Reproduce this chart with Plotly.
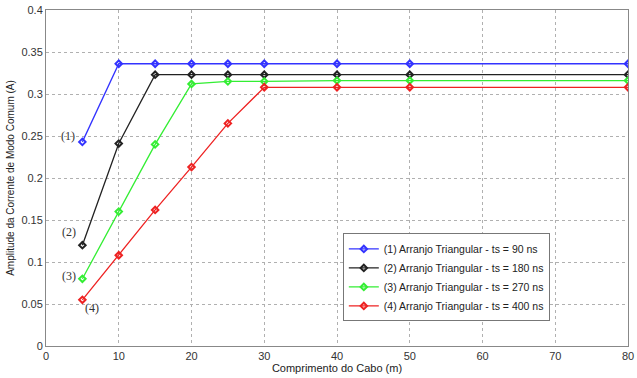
import plotly.graph_objects as go

x = [5, 10, 15, 20, 25, 30, 40, 50, 80]
s1 = [0.243, 0.336, 0.336, 0.336, 0.336, 0.336, 0.336, 0.336, 0.336]
s2 = [0.120, 0.241, 0.323, 0.323, 0.323, 0.323, 0.323, 0.323, 0.323]
s3 = [0.080, 0.160, 0.240, 0.312, 0.315, 0.315, 0.316, 0.316, 0.316]
s4 = [0.055, 0.108, 0.162, 0.213, 0.265, 0.308, 0.308, 0.308, 0.308]
names = ["(1) Arranjo Triangular - ts = 90 ns",
         "(2) Arranjo Triangular - ts = 180 ns",
         "(3) Arranjo Triangular - ts = 270 ns",
         "(4) Arranjo Triangular - ts = 400 ns"]
colors = ["#3333ff", "#222222", "#33ee33", "#ee2222"]
labels = ["(1)", "(2)", "(3)", "(4)"]
label_pos = [(3.0, 0.250), (3.2, 0.136), (3.1, 0.083), (6.3, 0.045)]

fig = go.Figure()
for ys, nm, c in zip([s1, s2, s3, s4], names, colors):
    fig.add_trace(go.Scatter(x=x, y=ys, name=nm, mode="lines+markers",
                             line=dict(color=c, width=1.3),
                             marker=dict(symbol="diamond-open", size=5, color=c, line=dict(width=2))))

for lab, (lx, ly) in zip(labels, label_pos):
    fig.add_annotation(x=lx, y=ly, text=lab, showarrow=False,
                       font=dict(family="Liberation Serif", size=12, color="#333333"))

axis_common = dict(showgrid=True, gridcolor="#b0b0b0", griddash="dot", gridwidth=1,
                   showline=True, linecolor="#888888", linewidth=1, mirror=True,
                   zeroline=False, ticks="", tickfont=dict(family="Liberation Sans", size=11, color="#333333"))

fig.update_xaxes(range=[0, 80], dtick=10, ticklabeloverflow="allow", automargin=False,
                 title=dict(text="Comprimento do Cabo (m)", standoff=2,
                            font=dict(family="Liberation Sans", size=11, color="#222222")), **axis_common)
fig.update_yaxes(range=[0, 0.4], dtick=0.05, tickformat="~g", automargin=False,
                 title=dict(text="Amplitude da Corrente de Modo Comum (A)", standoff=4,
                            font=dict(family="Liberation Sans", size=10, color="#222222")), **axis_common)

fig.update_layout(width=637, height=378, margin=dict(l=46, r=9, t=10, b=32),
                  paper_bgcolor="white", plot_bgcolor="white",
                  legend=dict(x=0.51, y=0.335, xanchor="left", yanchor="top",
                              bgcolor="white", bordercolor="#777777", borderwidth=1,
                              font=dict(family="Liberation Sans", size=10.5, color="#222222"),
                              tracegroupgap=0, itemwidth=30),
                  showlegend=True)

fig.write_html("out.html")
